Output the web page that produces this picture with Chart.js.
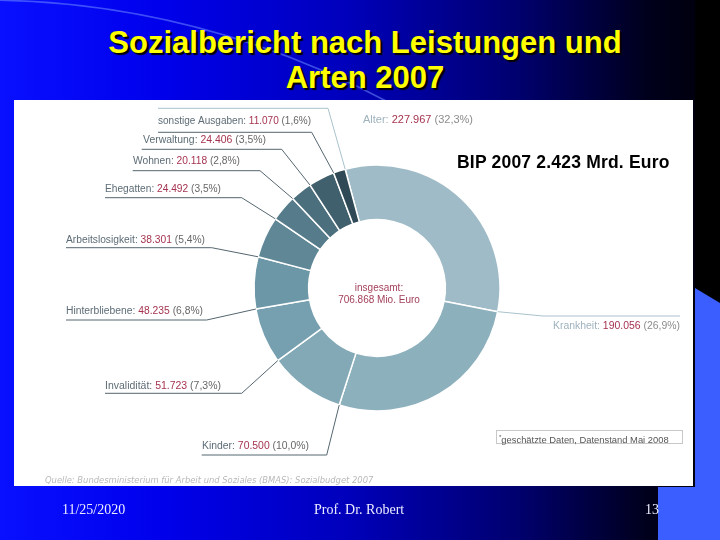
<!DOCTYPE html>
<html><head><meta charset="utf-8">
<script src="https://cdn.jsdelivr.net/npm/chart.js@4.4.0/dist/chart.umd.min.js"></script>
<style>
html,body{margin:0;padding:0;}
body{width:720px;height:540px;position:relative;overflow:hidden;
 background:linear-gradient(to right,#0810ff 0%,#0000ec 22%,#0000bc 48%,#00006e 72%,#00001c 90%,#000008 100%);
 font-family:"Liberation Sans",Arial,sans-serif;}
#arc{position:absolute;left:0;top:0;}
#rightblk{position:absolute;left:695px;top:0;width:25px;height:300px;background:#000;}
#rightblue{position:absolute;left:0;top:0;width:720px;height:540px;background:#3a5eff;
 clip-path:polygon(695px 288px,720px 303px,720px 540px,658px 540px,658px 487px,695px 487px);}
.title{position:absolute;left:0;width:730px;text-align:center;color:#ffff00;font-weight:bold;font-size:31px;
 text-shadow:2px 2px 1px #000;line-height:35px;}
#panel{position:absolute;left:14px;top:100px;width:679px;height:386px;background:#fff;overflow:hidden;}
#c{position:absolute;left:0;top:0;}
#bip{position:absolute;left:443px;top:52px;font-weight:bold;font-size:17.5px;color:#000;letter-spacing:0.2px;
 font-family:"Liberation Sans",Arial,sans-serif;}
#foot{position:absolute;left:482px;top:330px;width:183px;height:12px;border:1px solid #c8c8c8;font-size:9.4px;
 color:#555;line-height:12px;white-space:nowrap;padding-left:2px;font-family:"Liberation Sans",sans-serif;box-sizing:content-box;}
#src{position:absolute;left:31px;top:375px;font-size:8.4px;font-style:italic;color:#b9b9b9;white-space:nowrap;
 font-family:"DejaVu Sans",sans-serif;}
.ft{position:absolute;top:502px;color:#ececff;font-family:"Liberation Serif","Times New Roman",serif;font-size:14px;
 transform-origin:0 0;}
</style></head>
<body>
<svg id="arc" width="720" height="540"><path d="M -10 0 Q 200 2 392 104" stroke="rgba(110,140,255,0.55)" stroke-width="1.6" fill="none"/></svg>
<div id="rightblk"></div>
<div id="rightblue"></div>
<div class="title" style="top:25px;">Sozialbericht nach Leistungen und</div>
<div class="title" style="top:60px;">Arten 2007</div>
<div id="panel">
 <canvas id="c" width="679" height="386"></canvas>
 <div id="bip">BIP 2007 2.423 Mrd. Euro</div>
 <div id="foot"><sup style="font-size:6px;">*</sup>geschätzte Daten, Datenstand Mai 2008</div>
 <div id="src">Quelle: Bundesministerium für Arbeit und Soziales (BMAS): Sozialbudget 2007</div>
</div>
<div class="ft" style="left:62px;">11/25/2020</div>
<div class="ft" style="left:314px;">Prof. Dr. Robert</div>
<div class="ft" style="left:645px;">13</div>
<script>
// ---- data ----
const categories = ['Alter','Krankheit','Kinder','Invalidität','Hinterbliebene','Arbeitslosigkeit','Ehegatten','Wohnen','Verwaltung','sonstige Ausgaben'];
const values = [227967,190056,70500,51723,48235,38301,24492,20118,24406,11070];
const percentLabels = ['32,3%','26,9%','10,0%','7,3%','6,8%','5,4%','3,5%','2,8%','3,5%','1,6%'];
const totalLabel = ['insgesamt:','706.868 Mio. Euro'];

// ---- styles / layout (page coordinates) ----
const colors = ['#9fbbc7','#8db0bd','#83a9b6','#76a0af','#6c97a7','#5f8796','#567c8b','#4c6f7e','#41606d','#2f4a56'];
const PANEL = {x:14, y:100};
// text: [x, centerY, targetWidth], line: [ulY, farX, elbowX], light: right-side colour scheme
const labelLayout = [
  {t:[363,120.7,110], l:[108.3,158,328], light:true},
  {t:[553,326,127],   l:[316,680,543],   light:true},
  {t:[202,446.7,107], l:[455,201.7,326.7]},
  {t:[105,386.7,116], l:[393.3,105,241.7]},
  {t:[66,311.7,137],  l:[320,66,206.7]},
  {t:[66,240,139],    l:[247.7,66,211.7]},
  {t:[105,189.3,116], l:[197.7,105,241.7]},
  {t:[133,161.7,107], l:[170.7,132.7,260]},
  {t:[143,140.7,123], l:[149.3,141.7,281.7]},
  {t:[158,121.7,153], l:[132.3,158,311.7]}
];

const labelPlugin = {
  id:'labels',
  afterDatasetsDraw(chart){
    const ctx = chart.ctx;
    const meta = chart.getDatasetMeta(0);
    ctx.save();
    meta.data.forEach((arc,i)=>{
      const p = arc.getProps(['x','y','startAngle','outerRadius','innerRadius'],true);
      const L = labelLayout[i];
      const ox = p.x + p.outerRadius*Math.cos(p.startAngle);
      const oy = p.y + p.outerRadius*Math.sin(p.startAngle);
      const ulY = L.l[0]-PANEL.y, far = L.l[1]-PANEL.x, elb = L.l[2]-PANEL.x;
      ctx.strokeStyle = L.light ? '#a9c2cd' : '#55666f';
      ctx.lineWidth = 1;
      ctx.beginPath();
      ctx.moveTo(far, ulY); ctx.lineTo(elb, ulY); ctx.lineTo(ox, oy);
      ctx.stroke();
      const parts = [
        {s: categories[i]+': ', c: L.light ? '#9fb2bd' : '#5d6c76'},
        {s: values[i].toLocaleString('de-DE'), c:'#a5334f'},
        {s: ' ('+percentLabels[i]+')', c: L.light ? '#8c8c8c' : '#676767'}
      ];
      ctx.font = '10px "Liberation Sans", Arial, sans-serif';
      ctx.textBaseline = 'middle';
      ctx.textAlign = 'left';
      let w = 0; parts.forEach(pt=>w+=ctx.measureText(pt.s).width);
      const sx = L.t[2]/w;
      ctx.save();
      ctx.translate(L.t[0]-PANEL.x, L.t[1]-PANEL.y);
      ctx.scale(sx,1);
      let cx = 0;
      parts.forEach(pt=>{ctx.fillStyle=pt.c; ctx.fillText(pt.s,cx,0); cx+=ctx.measureText(pt.s).width;});
      ctx.restore();
    });
    const a0 = meta.data[0];
    ctx.fillStyle = '#a3405a';
    ctx.font = '10px "Liberation Sans", Arial, sans-serif';
    ctx.textAlign = 'center';
    ctx.textBaseline = 'middle';
    ctx.fillText(totalLabel[0], a0.x+2, a0.y);
    ctx.fillText(totalLabel[1], a0.x+2, a0.y+12);
    ctx.restore();
  }
};

new Chart(document.getElementById('c'), {
  type:'doughnut',
  data:{labels:categories, datasets:[{data:values, backgroundColor:colors, borderColor:'#ffffff', borderWidth:1.5, hoverOffset:0}]},
  options:{
    responsive:false, animation:false, devicePixelRatio:1,
    rotation:-15, radius:123, cutout:68,
    layout:{padding:{left:240,right:193,top:65,bottom:75}},
    plugins:{legend:{display:false}, tooltip:{enabled:false}}
  },
  plugins:[labelPlugin]
});
</script>
</body></html>
